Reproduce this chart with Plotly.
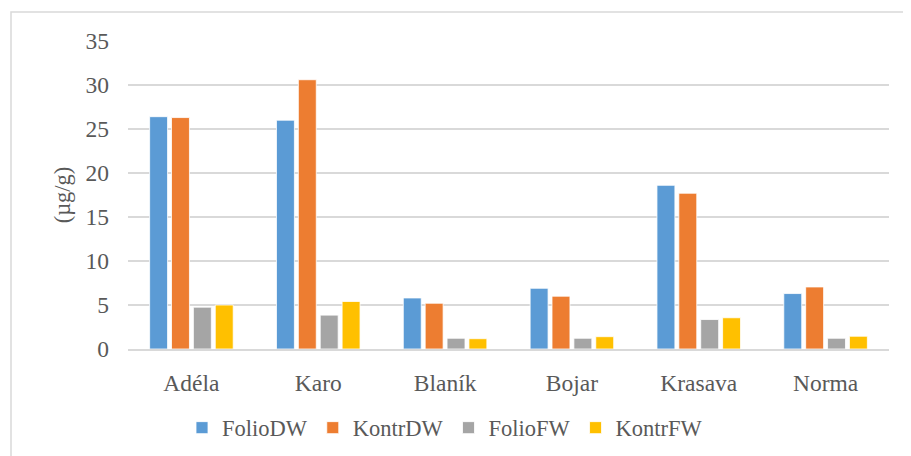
import plotly.graph_objects as go

categories = ["Adéla", "Karo", "Blaník", "Bojar", "Krasava", "Norma"]
folio_dw = [26.4, 26.0, 5.8, 6.9, 18.6, 6.3]
kontr_dw = [26.3, 30.6, 5.2, 6.0, 17.7, 7.05]
folio_fw = [4.75, 3.85, 1.22, 1.22, 3.35, 1.22]
kontr_fw = [5.0, 5.4, 1.17, 1.4, 3.55, 1.45]
series_names = ["FolioDW", "KontrDW", "FolioFW", "KontrFW"]
colors = ["#5B9BD5", "#ED7D31", "#A5A5A5", "#FFC000"]
y_ticks = [0, 5, 10, 15, 20, 25, 30, 35]

FONT = "Liberation Serif, Times New Roman, serif"
TXT = "#595959"
GRID = "#D9D9D9"

fig = go.Figure()
for name, vals, col in zip(series_names, [folio_dw, kontr_dw, folio_fw, kontr_fw], colors):
    fig.add_trace(go.Bar(x=categories, y=vals, name=name,
                         marker=dict(color=col, line=dict(color="white", width=0.8))))

# page has an 8px body margin; figure is offset by it
OFF = 8
W, H = 911 - OFF, 456 - OFF
L, R, T, B = 128 - OFF, 22, 41 - OFF, 107
pw, ph = W - L - R, H - T - B

def px_x(p):  # page x -> paper
    return (p - OFF - L) / pw

def px_y(p):  # page y -> paper
    return (T + ph - (p - OFF)) / ph

fig.update_layout(
    width=W, height=H,
    margin=dict(l=L, r=R, t=T, b=B, autoexpand=False),
    paper_bgcolor="white", plot_bgcolor="white",
    barmode="group", bargap=0.31, bargroupgap=0.18,
    font=dict(family=FONT, color=TXT, size=22),
    legend=dict(orientation="h", x=px_x(445), xanchor="center",
                y=px_y(428), yanchor="middle",
                font=dict(size=22.5, color=TXT, family=FONT),
                itemwidth=30, tracegroupgap=0),
    xaxis=dict(showgrid=False, showline=True, linecolor=GRID, linewidth=1.5,
               automargin=False,
               ticks="", tickfont=dict(size=23.5, color=TXT), ticklabelstandoff=12),
    yaxis=dict(range=[0, 35], tickvals=y_ticks, showgrid=True, gridcolor=GRID,
               gridwidth=1.5, zeroline=False, showline=False, automargin=False,
               tickfont=dict(size=23.5, color=TXT), ticklabelstandoff=18,
               title=dict(text="(µg/g)", font=dict(size=22.5, color=TXT), standoff=8)),
)

# outer chart border (Excel chart area)
fig.add_shape(type="rect", xref="paper", yref="paper",
              x0=px_x(11), x1=px_x(940),
              y0=px_y(480), y1=px_y(12),
              line=dict(color=GRID, width=1.5), fillcolor="rgba(0,0,0,0)", layer="below")

fig.write_html("out.html")
